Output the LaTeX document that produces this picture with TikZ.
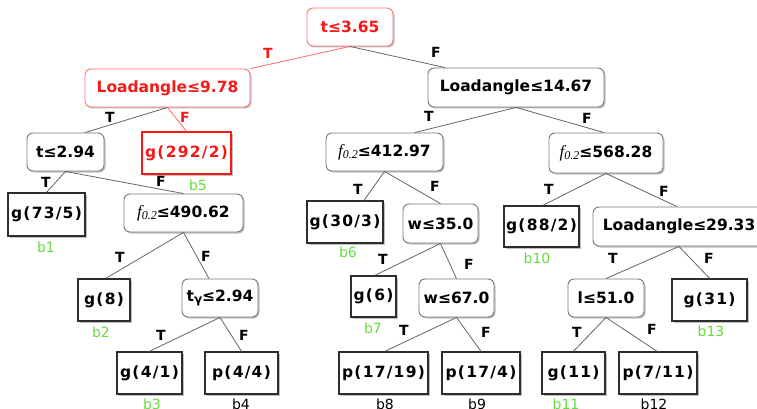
\documentclass[tikz,border=0pt]{standalone}
\usepackage{fontspec}
\setmainfont{DejaVu Sans}
\newfontfamily\seriffam{Liberation Serif}
\usetikzlibrary{shadows}

\definecolor{edgegray}{RGB}{100,100,100}
\definecolor{splitgray}{RGB}{120,120,120}
\definecolor{leafdark}{RGB}{45,45,45}
\definecolor{pathred}{RGB}{245,25,25}
\definecolor{pathredlight}{RGB}{255,115,115}
\definecolor{pathline}{RGB}{255,120,120}
\definecolor{leafgreen}{RGB}{102,220,64}

% feature symbols
\newcommand{\fsym}{{\seriffam\itshape\mdseries\fontsize{17}{17}\selectfont f\raisebox{-0.35ex}{\fontsize{12}{12}\selectfont 0.2}}}
\newcommand{\tgam}{t\raisebox{-0.3ex}{\fontsize{12}{12}\selectfont γ}}

\tikzset{
  boxfont/.style={font=\fontsize{15.5}{16}\selectfont\bfseries},
  leaffont/.style={font=\fontsize{15.5}{16}\selectfont\bfseries\addfontfeatures{LetterSpace=8}},
  split/.style={boxfont, draw=splitgray, fill=white, rounded corners=6pt,
    line width=0.9pt, inner sep=0pt,
    drop shadow={shadow xshift=1.5pt, shadow yshift=-1.5pt, opacity=0.25, fill=black}},
  leaf/.style={leaffont, draw=leafdark, fill=white, line width=1.4pt, inner sep=0pt,
    drop shadow={shadow xshift=1.5pt, shadow yshift=-1.5pt, opacity=0.25, fill=black}},
  redsplit/.style={split, draw=pathredlight, text=pathred},
  redleaf/.style={leaf, draw=pathred, text=pathred, line width=1.2pt},
  edge/.style={draw=edgegray, line width=0.8pt},
  redge/.style={draw=pathline, line width=0.9pt},
  tf/.style={font=\fontsize{14}{14}\selectfont\bfseries, inner sep=0pt},
  rtf/.style={tf, text=pathred},
  bid/.style={font=\fontsize{14}{14}\selectfont, text=leafgreen, inner sep=0pt},
  bidk/.style={bid, text=black},
}

\begin{document}
\begin{tikzpicture}[x=1pt,y=-1pt]
\useasboundingbox (0,0) rectangle (757,409);

% ---- decision nodes ----
\node[redsplit, minimum width=86pt, minimum height=38pt] (root) at (350,27) {t≤3.65};
\node[redsplit, minimum width=165pt, minimum height=38pt] (la978) at (167.5,88) {Loadangle≤9.78};
\node[split, minimum width=176pt, minimum height=39pt] (la1467) at (516,87.5) {Loadangle≤14.67};
\node[split, minimum width=77pt, minimum height=38pt] (t294) at (65.5,152) {t≤2.94};
\node[split, minimum width=119pt, minimum height=38pt] (f49062) at (183.5,213) {\fsym≤490.62};
\node[split, minimum width=76pt, minimum height=38pt] (tg) at (220,298) {\tgam≤2.94};
\node[split, minimum width=117pt, minimum height=38pt] (f41297) at (384.5,152) {\fsym≤412.97};
\node[split, minimum width=114pt, minimum height=40pt] (f56828) at (606,153) {\fsym≤568.28};
\node[split, minimum width=75pt, minimum height=39pt] (w35) at (440.5,223.5) {w≤35.0};
\node[split, minimum width=75pt, minimum height=38pt] (w67) at (456.5,298) {w≤67.0};
\node[split, minimum width=172pt, minimum height=39pt] (la2933) at (679,226.5) {Loadangle≤29.33};
\node[split, minimum width=76pt, minimum height=38pt] (l51) at (606,298) {l≤51.0};

% ---- leaves ----
\node[redleaf, minimum width=89pt, minimum height=42pt] (g292) at (186.5,153) {g(292/2)};
\node[leaf, minimum width=77pt, minimum height=43pt] (g735) at (46.5,214.5) {g(73/5)};
\node[leaf, minimum width=52pt, minimum height=42pt] (g8) at (104,300) {g(8)};
\node[leaf, minimum width=65pt, minimum height=42pt] (g41) at (149.5,373) {g(4/1)};
\node[leaf, minimum width=73pt, minimum height=42pt] (p44) at (241.5,373) {p(4/4)};
\node[leaf, minimum width=76pt, minimum height=42pt] (g303) at (345,222) {g(30/3)};
\node[leaf, minimum width=45pt, minimum height=41pt] (g6) at (373.5,296.5) {g(6)};
\node[leaf, minimum width=89pt, minimum height=42pt] (p1719) at (383.5,373) {p(17/19)};
\node[leaf, minimum width=78pt, minimum height=42pt] (p174) at (481,373) {p(17/4)};
\node[leaf, minimum width=75pt, minimum height=41pt] (g882) at (541.5,226.5) {g(88/2)};
\node[leaf, minimum width=75pt, minimum height=42pt] (g31) at (709.5,300) {g(31)};
\node[leaf, minimum width=63pt, minimum height=42pt] (g11) at (573.5,373) {g(11)};
\node[leaf, minimum width=78pt, minimum height=42pt] (p711) at (658,373) {p(7/11)};

% ---- branches ----
\path[redge] (root.south) -- (la978.north east);
\path[edge] (root.south) -- ([xshift=-71pt]la1467.north);
\path[edge] (la978.south) -- ([xshift=19.5pt]t294.north);
\path[redge] (la978.south) -- (g292.north);
\path[edge] (t294.south) -- (g735.north);
\path[edge] (t294.south) -- (f49062.north);
\path[edge] (f49062.south) -- ([xshift=2pt]g8.north);
\path[edge] (f49062.south) -- ([xshift=-11pt]tg.north);
\path[edge] (tg.south) -- (g41.north);
\path[edge] (tg.south) -- (p44.north);
\path[edge] (la1467.south) -- ([xshift=30.5pt]f41297.north);
\path[edge] (la1467.south) -- ([xshift=-2pt]f56828.north);
\path[edge] (f41297.south) -- ([xshift=19pt]g303.north);
\path[edge] (f41297.south) -- (w35.north);
\path[edge] (w35.south) -- ([xshift=1.5pt]g6.north);
\path[edge] (w35.south) -- (w67.north);
\path[edge] (w67.south) -- ([xshift=1.5pt]p1719.north);
\path[edge] (w67.south) -- (p174.north);
\path[edge] (f56828.south) -- ([xshift=1.5pt]g882.north);
\path[edge] (f56828.south) -- ([xshift=-2pt]la2933.north);
\path[edge] (la2933.south) -- (l51.north);
\path[edge] (la2933.south) -- (g31.north);
\path[edge] (l51.south) -- (g11.north);
\path[edge] (l51.south) -- ([xshift=-1pt]p711.north);

% ---- branch labels ----
\node[rtf] (lt0) at (268,53) {T};
\node[tf]  (lf0) at (436,52) {F};
\node[tf]  (lt1) at (110,117) {T};
\node[rtf] (lf1) at (185,117) {F};
\node[tf]  (lt2) at (46,182) {T};
\node[tf]  (lf2) at (161,181) {F};
\node[tf]  (lt3) at (120,257) {T};
\node[tf]  (lf3) at (206,256) {F};
\node[tf]  (lt4) at (161,335) {T};
\node[tf]  (lf4) at (244,335) {F};
\node[tf]  (lt5) at (429,116) {T};
\node[tf]  (lf5) at (587,118) {F};
\node[tf]  (lt6) at (358,189) {T};
\node[tf]  (lf6) at (435,186) {F};
\node[tf]  (lt7) at (383,259) {T};
\node[tf]  (lf7) at (469,264) {F};
\node[tf]  (lt8) at (404,330) {T};
\node[tf]  (lf8) at (486,332) {F};
\node[tf]  (lt9) at (549,189) {T};
\node[tf]  (lf9) at (664,191) {F};
\node[tf]  (lt10) at (613,258) {T};
\node[tf]  (lf10) at (709,258) {F};
\node[tf]  (lt11) at (577,332) {T};
\node[tf]  (lf11) at (652,329) {F};

% ---- leaf identifiers ----
\node[bid]  (b1) at (46,247) {b1};
\node[bid]  (b2) at (101,332) {b2};
\node[bid]  (b3) at (152,404) {b3};
\node[bidk] (b4) at (241,404) {b4};
\node[bid]  (b5) at (198,185) {b5};
\node[bid]  (b6) at (348,252) {b6};
\node[bid]  (b7) at (373,328) {b7};
\node[bidk] (b8) at (385,404) {b8};
\node[bidk] (b9) at (477,404) {b9};
\node[bid]  (b10) at (537,258) {b10};
\node[bid]  (b11) at (566,404) {b11};
\node[bidk] (b12) at (654,404) {b12};
\node[bid]  (b13) at (711,331) {b13};
\end{tikzpicture}
\end{document}
